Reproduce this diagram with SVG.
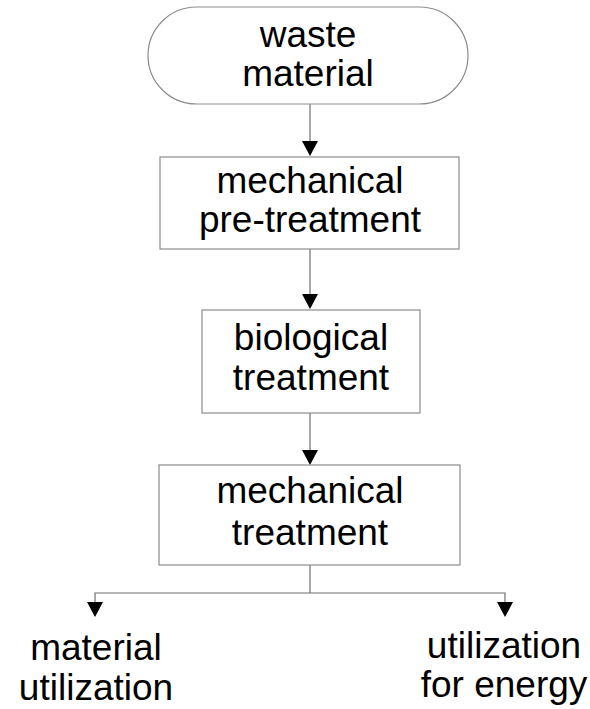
<svg xmlns="http://www.w3.org/2000/svg" width="590" height="709" viewBox="0 0 590 709">
  <style>
    .box { fill: #ffffff; stroke: #8c8c8c; stroke-width: 1.2; }
    .lbl { font-family: "Liberation Sans", Arial, sans-serif; font-size: 37px; fill: #000000; text-anchor: middle; }
    .conn { fill: none; stroke: #6e6e6e; stroke-width: 1.2; }
    .head { fill: #000000; }
  </style>
  <rect width="590" height="709" fill="#ffffff"/>

  <g id="connectors">
    <line class="conn" x1="310" y1="104" x2="310" y2="145"/>
    <path class="head" d="M302,141 L318,141 L310,156 Z"/>
    <line class="conn" x1="310" y1="249" x2="310" y2="296"/>
    <path class="head" d="M302,294 L318,294 L310,309 Z"/>
    <line class="conn" x1="310" y1="413" x2="310" y2="452"/>
    <path class="head" d="M302,450 L318,450 L310,465 Z"/>
    <path class="conn" d="M310,565 V593 M95,605 V593 H505 V605"/>
    <path class="head" d="M87,602 L103,602 L95,617 Z"/>
    <path class="head" d="M497,602 L513,602 L505,617 Z"/>
  </g>

  <g id="waste-material">
    <rect class="box" x="148" y="7" width="320" height="97" rx="48.5" ry="48.5"/>
    <text class="lbl" x="308" y="47">waste</text>
    <text class="lbl" x="308" y="86">material</text>
  </g>

  <g id="mechanical-pre-treatment">
    <rect class="box" x="160" y="157" width="299" height="92"/>
    <text class="lbl" x="310" y="193">mechanical</text>
    <text class="lbl" x="310" y="232">pre-treatment</text>
  </g>

  <g id="biological-treatment">
    <rect class="box" x="202" y="310" width="218" height="103"/>
    <text class="lbl" x="311" y="350">biological</text>
    <text class="lbl" x="311" y="390">treatment</text>
  </g>

  <g id="mechanical-treatment">
    <rect class="box" x="159" y="465" width="301" height="100"/>
    <text class="lbl" x="310" y="503">mechanical</text>
    <text class="lbl" x="310" y="545">treatment</text>
  </g>

  <g id="material-utilization">
    <text class="lbl" x="96" y="660">material</text>
    <text class="lbl" x="96" y="700">utilization</text>
  </g>

  <g id="utilization-for-energy">
    <text class="lbl" x="504" y="658">utilization</text>
    <text class="lbl" x="504" y="697">for energy</text>
  </g>
</svg>
